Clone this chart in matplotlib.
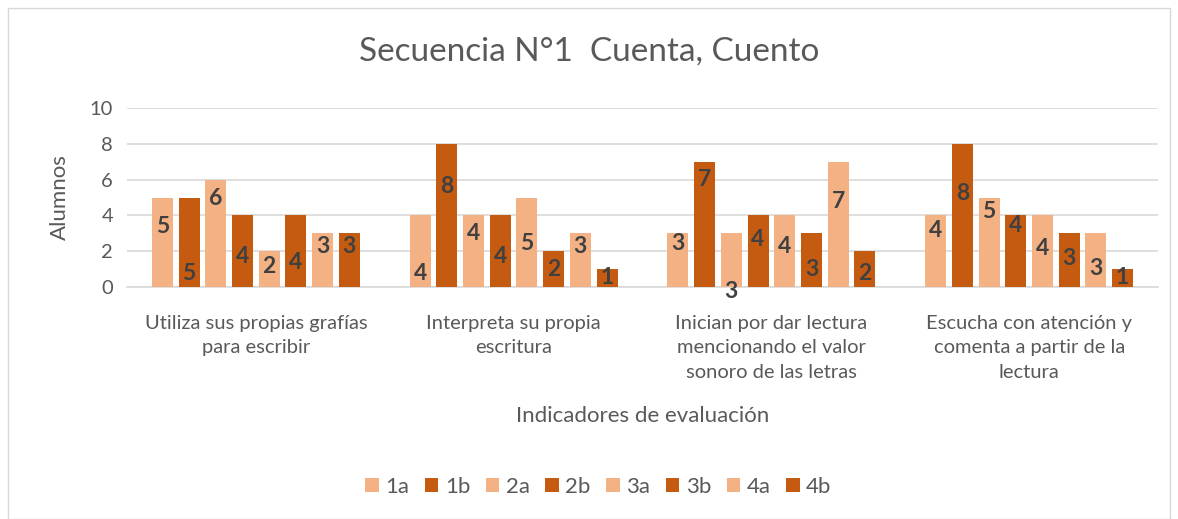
import matplotlib.pyplot as plt
import numpy as np
from matplotlib.patches import Rectangle

plt.rcParams['font.family'] = ['Lato', 'DejaVu Sans']

# data
categories = ["Utiliza sus propias grafías\npara escribir",
              "Interpreta su propia\nescritura",
              "Inician por dar lectura\nmencionando el valor\nsonoro de las letras",
              "Escucha con atención y\ncomenta a partir de la\nlectura"]
series = ["1a", "1b", "2a", "2b", "3a", "3b", "4a", "4b"]
v_1a = [5, 4, 3, 4]
v_1b = [5, 8, 7, 8]
v_2a = [6, 4, 3, 5]
v_2b = [4, 4, 4, 4]
v_3a = [2, 5, 4, 4]
v_3b = [4, 2, 3, 3]
v_4a = [3, 3, 7, 3]
v_4b = [3, 1, 2, 1]
values = [v_1a, v_1b, v_2a, v_2b, v_3a, v_3b, v_4a, v_4b]

# where each data label sits (as moved by hand in the original), per series
label_y = [[3.37, 0.76, 2.44, 3.18],
           [0.73, 5.6, 5.98, 5.23],
           [4.95, 3.0, -0.26, 4.21],
           [1.69, 1.73, 2.63, 3.46],
           [1.13, 2.44, 2.29, 2.16],
           [1.38, 0.99, 0.95, 1.6],
           [2.25, 2.25, 4.77, 1.04],
           [2.25, 0.52, 0.73, 0.52]]

light = "#F4B183"
dark = "#C55A11"
txt = "#595959"

fig = plt.figure(figsize=(11.78, 5.19), dpi=100)
ax = fig.add_axes([127/1178, 1-287/519, (1158-127)/1178, (287-108)/519])

x = np.arange(len(categories))
step = 0.1036
width = 0.0815
for i, (name, vals) in enumerate(zip(series, values)):
    pos = x + (i - 3.5) * step
    col = light if i % 2 == 0 else dark
    ax.bar(pos, vals, width, color=col, label=name, zorder=3)
    for px, ly, v in zip(pos, label_y[i], vals):
        ax.text(px, ly, str(v), ha="center", va="center", fontsize=16.5,
                fontweight="bold", color="#404040", zorder=4)

ax.set_ylim(0, 10)
ax.set_xlim(-0.5, 3.5)
ax.set_yticks(range(0, 11, 2))
ax.yaxis.grid(True, color="#D9D9D9", linewidth=1.2, zorder=0)
ax.set_axisbelow(True)
for s in ["top", "right", "left"]:
    ax.spines[s].set_visible(False)
ax.spines["bottom"].set_color("#D9D9D9")
ax.spines["bottom"].set_linewidth(1.2)
ax.tick_params(length=0, labelsize=14.5, colors=txt, pad=10)
ax.set_xticks(x)
ax.set_xticklabels(categories, linespacing=1.55)
ax.tick_params(axis="x", pad=20)

ax.set_ylabel("Alumnos", fontsize=16, color=txt, labelpad=14)
ax.set_xlabel("Indicadores de evaluación", fontsize=16, color=txt, labelpad=18)
fig.text(0.5, 1-52/519, "Secuencia N°1  Cuenta, Cuento", ha="center", va="center",
         fontsize=24, color=txt)

fig.legend(loc="center", bbox_to_anchor=(0.508, 1-487/519), ncol=8, frameon=False,
           fontsize=16, labelcolor=txt, handlelength=0.6, handleheight=0.6,
           handletextpad=0.3, columnspacing=0.7)

fig.patches.append(Rectangle((8/1178, 0.0), 1-16/1178, 1-8/519, transform=fig.transFigure,
                             fill=False, edgecolor="#D9D9D9", linewidth=1))

fig.savefig("out.png", dpi=100)
